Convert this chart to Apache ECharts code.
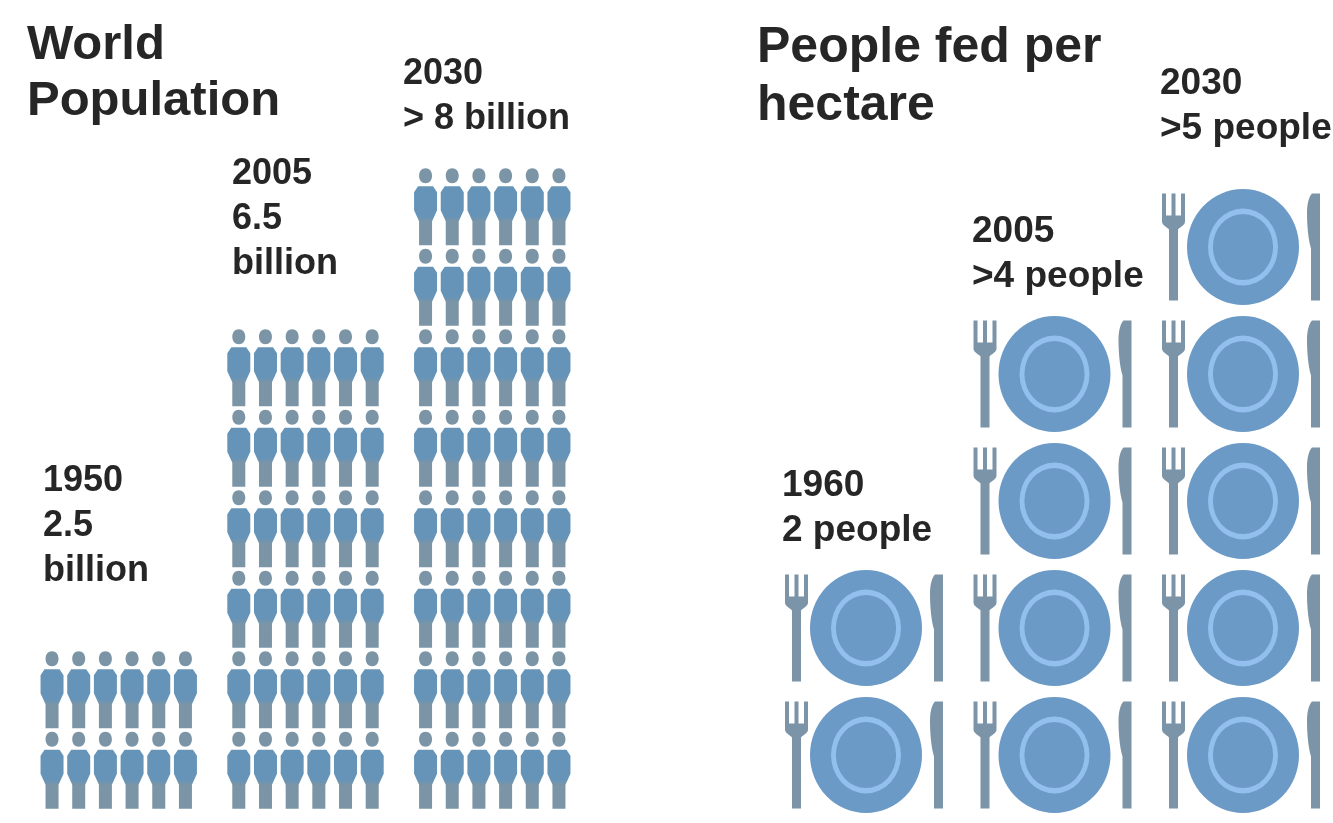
<!DOCTYPE html>
<html>
<head>
<meta charset="utf-8">
<title>World population and people fed per hectare</title>
<script src="https://cdn.jsdelivr.net/npm/echarts@6/dist/echarts.min.js"></script>
<style>
  html, body { margin: 0; padding: 0; background: #fff; }
  #chart { width: 1333px; height: 823px; }
</style>
</head>
<body>
<div id="chart"></div>
<script>
// Population: one row of six figures stands for each whole billion.
const populationYears = ['1950', '2005', '2030'];
const populationBillions = [2.5, 6.5, 8];
const figuresPerRow = 6;

// Farmland: one place setting stands for each person fed per hectare.
const foodYears = ['1960', '2005', '2030'];
const peopleFed = [2, 4, 5];

const populationLabels = [
  ['1950', '2.5', 'billion'],
  ['2005', '6.5', 'billion'],
  ['2030', '> 8 billion']
];
const foodLabels = [
  ['1960', '2 people'],
  ['2005', '>4 people'],
  ['2030', '>5 people']
];

const PERSON = 'path://M11.5 0C15.5 0 18 3 18 7.5C18 12 15.5 15 11.5 15C7.5 15 5 12 5 7.5C5 3 7.5 0 11.5 0Z' +
  'M4 18H19L23 24V42L18 53V77H5V53L0 42V24Z';
const FORK = 'path://M0 0H4V22H9.5V0H13.5V22H19V0H23V28C23 32 17 34 16 36V107H7V36C6 34 0 32 0 28Z';
const KNIFE = 'path://M5 0H13V107H4V55C1 45 0 30 0 20C0 10 2 3 5 0Z';
// The plate's inner ring: an outer circle with a counter-wound hole.
const RING = 'path://M50 0A50 50 0 1 1 50 100A50 50 0 1 1 50 0Z' +
  'M50 7A43 43 0 1 0 50 93A43 43 0 1 0 50 7Z';

// Each figure's head and legs are grey, its torso blue.
const personFill = new echarts.graphic.LinearGradient(0, 0, 0, 1, [
  { offset: 0, color: '#7c95a6' },
  { offset: 0.22, color: '#7c95a6' },
  { offset: 0.24, color: '#6594b8' },
  { offset: 0.62, color: '#6594b8' },
  { offset: 0.7, color: '#7c95a6' },
  { offset: 1, color: '#7c95a6' }
]);

// A bar repeats its symbol exactly as many times as its value, within its own length.
const repeated = (rows) => ({ value: rows, symbolRepeat: rows, symbolBoundingData: rows });

// Columns of figures, with an empty column between two years.
const personColumns = [];
const personRows = [];
populationYears.forEach((year, i) => {
  for (let c = 0; c < figuresPerRow; c++) {
    personColumns.push(year + '-' + c);
    personRows.push(repeated(Math.floor(populationBillions[i])));
  }
  if (i < populationYears.length - 1) {
    personColumns.push(year + '-gap');
    personRows.push('-');
  }
});

function settingLayer(symbol, size, offsetX, style) {
  return {
    type: 'pictorialBar',
    xAxisIndex: 1,
    yAxisIndex: 1,
    data: peopleFed.map(repeated),
    symbol: symbol,
    symbolSize: size,
    symbolOffset: [offsetX, 0],
    symbolMargin: '0!',
    itemStyle: style,
    silent: true
  };
}

function textBlock(lines, x, firstBaseline, lineGap, font) {
  return lines.map((line, i) => ({
    type: 'text',
    x: x,
    y: firstBaseline + i * lineGap,
    silent: true,
    style: {
      text: line,
      fill: '#262626',
      font: font,
      verticalAlign: 'bottom'
    }
  }));
}

const TITLE_FONT = 'bold 49px "Liberation Sans", Arial, sans-serif';
const WIDE_TITLE_FONT = 'bold 50px "Liberation Sans", Arial, sans-serif';
const LABEL_FONT = 'bold 36px "Liberation Sans", Arial, sans-serif';
const FOOD_LABEL_FONT = 'bold 37px "Liberation Sans", Arial, sans-serif';

const chart = echarts.init(document.getElementById('chart'));
chart.setOption({
  animation: false,
  backgroundColor: '#ffffff',
  grid: [
    { left: 38.7, width: 533.6, top: 166.5, height: 644 },
    { left: 866, width: 377, top: 183.5, height: 635 }
  ],
  xAxis: [
    { type: 'category', gridIndex: 0, data: personColumns, show: false },
    { type: 'category', gridIndex: 1, data: foodYears, boundaryGap: false, show: false }
  ],
  yAxis: [
    { type: 'value', gridIndex: 0, min: 0, max: 8, show: false },
    { type: 'value', gridIndex: 1, min: 0, max: 5, show: false }
  ],
  series: [
    {
      type: 'pictorialBar',
      xAxisIndex: 0,
      yAxisIndex: 0,
      data: personRows,
      symbol: PERSON,
      symbolSize: [23, 77],
      symbolMargin: '0!',
      itemStyle: { color: personFill },
      silent: true
    },
    settingLayer(FORK, [23, 107], -69.5, { color: '#7b94a8' }),
    settingLayer(KNIFE, [13, 107], 70.5, { color: '#7b94a8' }),
    settingLayer('circle', [112, 116], 0, { color: '#6b9ac6' }),
    settingLayer(RING, [70, 77], 0, { color: '#93bfee' })
  ],
  graphic: [
    ...textBlock(['World', 'Population'], 27, 70, 56, TITLE_FONT),
    ...textBlock(['People fed per', 'hectare'], 757, 73, 58, WIDE_TITLE_FONT),
    ...textBlock(populationLabels[0], 43, 499, 45, LABEL_FONT),
    ...textBlock(populationLabels[1], 232, 192, 45, LABEL_FONT),
    ...textBlock(populationLabels[2], 403, 92, 45, LABEL_FONT),
    ...textBlock(foodLabels[0], 782, 504, 45, FOOD_LABEL_FONT),
    ...textBlock(foodLabels[1], 972, 250, 45, FOOD_LABEL_FONT),
    ...textBlock(foodLabels[2], 1160, 102, 45, FOOD_LABEL_FONT)
  ]
});
</script>
</body>
</html>
